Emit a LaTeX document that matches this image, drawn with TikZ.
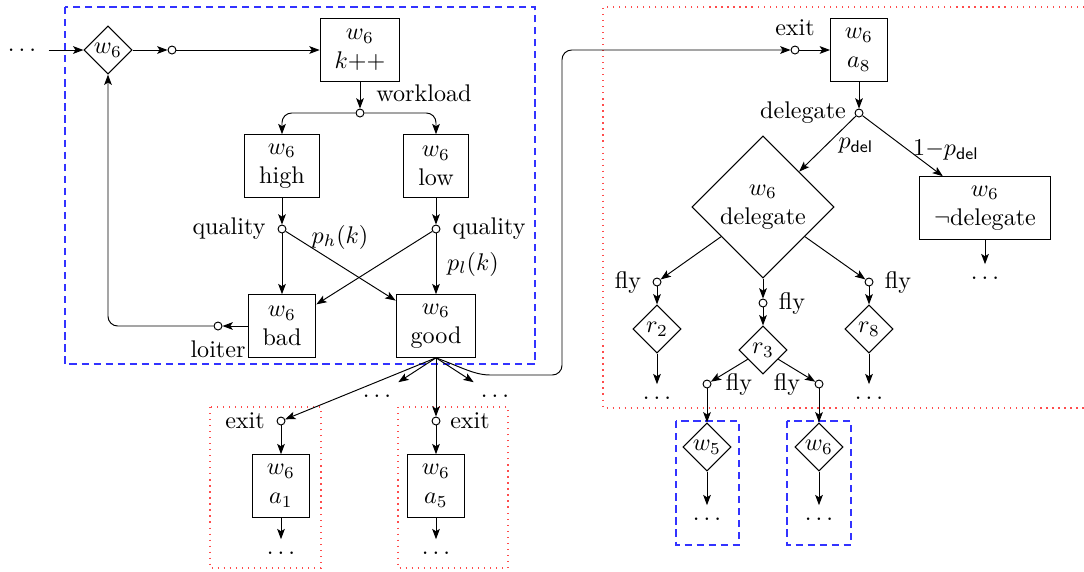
\documentclass[tikz,border=0pt]{standalone}
\usetikzlibrary{shapes.geometric,arrows.meta}
\begin{document}
\begin{tikzpicture}[x=0.415pt,y=-0.415pt,
  >={Stealth[length=4.3pt,width=3.2pt,inset=1pt]},
  box/.style={draw, align=center, minimum height=26pt, inner xsep=6pt},
  dia/.style={draw, diamond, aspect=1, minimum size=20pt, inner sep=0.5pt},
  bigdia/.style={draw, diamond, aspect=1, minimum size=59pt, align=center, inner sep=0pt},
  pt/.style={draw, circle, fill=white, minimum size=3.3pt, inner sep=0pt},
  dots/.style={inner sep=5pt},
  lbl/.style={inner sep=1pt},
  bluebox/.style={draw=blue!80, line width=0.5pt, dash pattern=on 3pt off 2pt},
  redbox/.style={draw=red!70, line width=0.5pt, dotted}]
\useasboundingbox (0,0) rectangle (1084,571);
% frames
\draw[bluebox] (65,7) rectangle (535,364);
\draw[redbox] (1084,7) -- (603,7) -- (603,408) -- (1084,408);
\draw[bluebox] (676,421) rectangle (739,545);
\draw[bluebox] (787,421) rectangle (851,545);
\draw[redbox] (210,407) rectangle (321,568);
\draw[redbox] (398,407) rectangle (508,568);
% left block
\node[dots] (d0) at (22,50) {$\ldots$};
\node[dia] (w6a) at (108,50) {$w_6$};
\node[pt] (c1) at (172,50) {};
\node[box] (kpp) at (360,50) {$w_6$\\$k{+}{+}$};
\node[pt] (wl) at (360,113) {};
\node[lbl] (wlL) at (424,93) {workload};
\node[box] (high) at (282,166) {$w_6$\\high};
\node[box] (low) at (436,166) {$w_6$\\low};
\node[pt] (q1) at (282,229) {};
\node[lbl] (q1L) at (229,229) {quality};
\node[pt] (q2) at (436,229) {};
\node[lbl] (q2L) at (489,229) {quality};
\node[box] (bad) at (282,326) {$w_6$\\bad};
\node[box] (good) at (436,326) {$w_6$\\good};
\node[pt] (lo) at (218,326) {};
\node[lbl] (loL) at (218,349) {loiter};
\node[lbl] (phL) at (340,237) {$p_h(k)$};
\node[lbl] (plL) at (473,264) {$p_l(k)$};
% bottom left
\node[pt] (e1) at (281,421) {};
\node[lbl] (e1L) at (245,421) {exit};
\node[box] (a1) at (281,486) {$w_6$\\$a_1$};
\node[dots] (d1) at (281,553) {$\ldots$};
\node[pt] (e5) at (436,421) {};
\node[lbl] (e5L) at (470,421) {exit};
\node[box] (a5) at (436,486) {$w_6$\\$a_5$};
\node[dots] (d5) at (436,553) {$\ldots$};
\node[dots] (dg1) at (377,396) {$\ldots$};
\node[dots] (dg2) at (495,396) {$\ldots$};
% right block
\node[pt] (e8) at (795,50) {};
\node[lbl] (e8L) at (795,28) {exit};
\node[box] (a8) at (859,50) {$w_6$\\$a_8$};
\node[pt] (dl) at (859,113) {};
\node[lbl] (dlL) at (803,113) {delegate};
\node[bigdia] (del) at (763,207) {$w_6$\\delegate};
\node[box] (ndel) at (985,208) {$w_6$\\$\neg$delegate};
\node[lbl] (pdL) at (856,146) {$p_{\mathsf{del}}$};
\node[lbl] (npdL) at (946,150) {$1{-}p_{\mathsf{del}}$};
\node[dots] (dnd) at (985,278) {$\ldots$};
\node[pt] (f2) at (657,282) {};
\node[lbl] (f2L) at (628,282) {fly};
\node[pt] (f3) at (763,303) {};
\node[lbl] (f3L) at (792,303) {fly};
\node[pt] (f8) at (869,282) {};
\node[lbl] (f8L) at (898,282) {fly};
\node[dia] (r2) at (657,329) {$r_2$};
\node[dia] (r3) at (763,350) {$r_3$};
\node[dia] (r8) at (869,329) {$r_8$};
\node[dots] (dr2) at (657,398) {$\ldots$};
\node[dots] (dr8) at (869,398) {$\ldots$};
\node[pt] (f5) at (707,384) {};
\node[lbl] (f5L) at (739,384) {fly};
\node[pt] (f6) at (819,384) {};
\node[lbl] (f6L) at (787,384) {fly};
\node[dia] (w5) at (707,447) {$w_5$};
\node[dia] (w6b) at (819,447) {$w_6$};
\node[dots] (dw5) at (707,519) {$\ldots$};
\node[dots] (dw6) at (819,519) {$\ldots$};
\coordinate (k1) at (500,375);
\coordinate (k2) at (562,375);
\coordinate (k3) at (562,50);
% connectors
\draw[->] (d0) -- (w6a);
\draw[->] (w6a) -- (c1);
\draw[->] (c1) -- (kpp);
\draw[->] (kpp) -- (wl);
\draw[->, rounded corners=4pt] (wl) -| (high);
\draw[->, rounded corners=4pt] (wl) -| (low);
\draw[->] (high) -- (q1);
\draw[->] (low) -- (q2);
\draw[->] (q1) -- (bad);
\draw[->] (q1) -- (good);
\draw[->] (q2) -- (bad);
\draw[->] (q2) -- (good);
\draw[->] (bad) -- (lo);
\draw[->, rounded corners=4pt] (lo) -| (w6a);
\draw[->] (good.south) -- (e1);
\draw[->] (good.south) -- (dg1);
\draw[->] (good.south) -- (e5);
\draw[->] (good.south) -- (dg2);
\draw[->, rounded corners=4pt] (good.south) to[out=-20,in=180] (k1) -- (k2) -- (k3) -- (e8);
\draw[->] (e1) -- (a1);
\draw[->] (a1) -- (d1);
\draw[->] (e5) -- (a5);
\draw[->] (a5) -- (d5);
\draw[->] (e8) -- (a8);
\draw[->] (a8) -- (dl);
\draw[->] (dl) -- (del);
\draw[->] (dl) -- (ndel);
\draw[->] (ndel) -- (dnd);
\draw[->] (del) -- (f2);
\draw[->] (del) -- (f3);
\draw[->] (del) -- (f8);
\draw[->] (f2) -- (r2);
\draw[->] (f3) -- (r3);
\draw[->] (f8) -- (r8);
\draw[->] (r2) -- (dr2);
\draw[->] (r8) -- (dr8);
\draw[->] (r3) -- (f5);
\draw[->] (r3) -- (f6);
\draw[->] (f5) -- (w5);
\draw[->] (f6) -- (w6b);
\draw[->] (w5) -- (dw5);
\draw[->] (w6b) -- (dw6);
\end{tikzpicture}
\end{document}
